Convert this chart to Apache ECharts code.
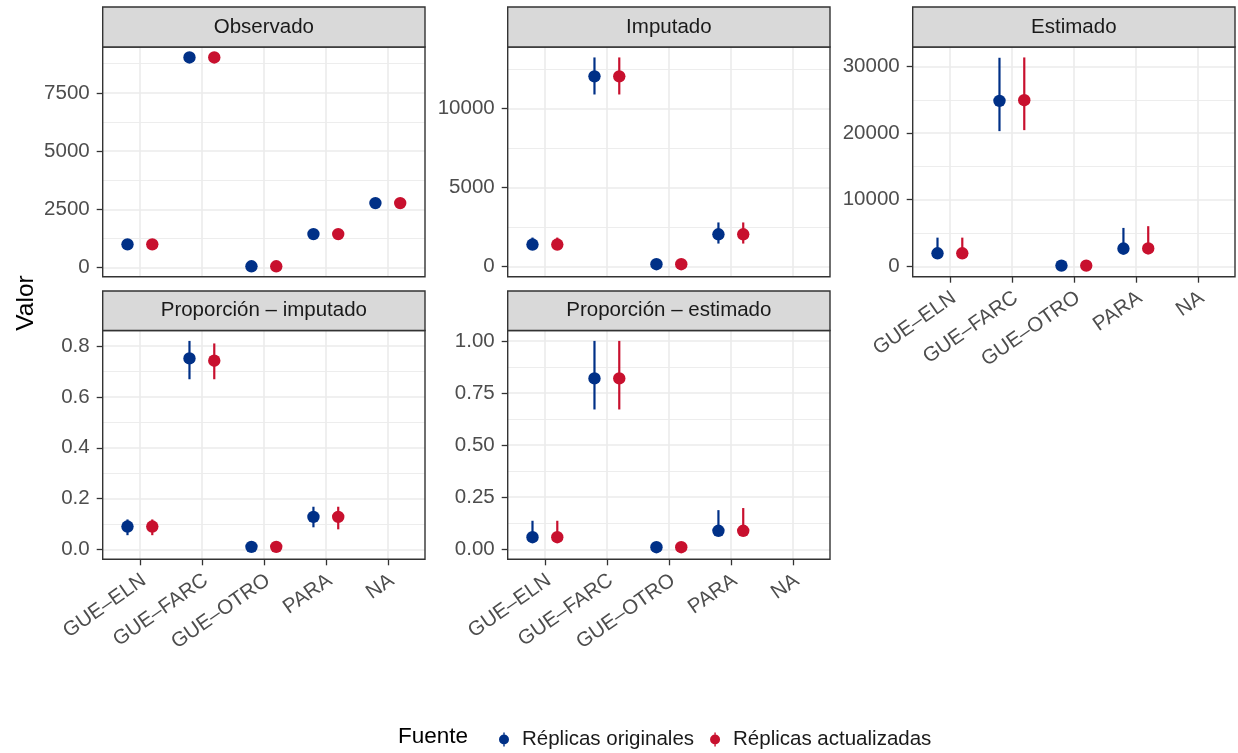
<!DOCTYPE html>
<html>
<head>
<meta charset="utf-8">
<script src="https://cdn.jsdelivr.net/npm/echarts@6/dist/echarts.min.js"></script>
<style>html,body{margin:0;padding:0;background:#fff}#c{width:1238px;height:753px}</style>
</head>
<body>
<div id="c"></div>
<script>
// ---------------- DATA ----------------
const categories = ['GUE–ELN', 'GUE–FARC', 'GUE–OTRO', 'PARA', 'NA'];
const fuentes = ['Réplicas originales', 'Réplicas actualizadas'];
const panelTitles = ['Observado', 'Imputado', 'Estimado', 'Proporción – imputado', 'Proporción – estimado'];

// Observado (no intervals)
const observadoOrig = [1000, 9020, 60, 1440, 2770];
const observadoActu = [1000, 9020, 60, 1440, 2770];
const observadoOrigLow = [null, null, null, null, null];
const observadoOrigHigh = [null, null, null, null, null];
const observadoActuLow = [null, null, null, null, null];
const observadoActuHigh = [null, null, null, null, null];

// Imputado
const imputadoOrig = [1380, 12050, 130, 2030, null];
const imputadoOrigLow = [1050, 10900, 0, 1440, null];
const imputadoOrigHigh = [1820, 13250, 250, 2780, null];
const imputadoActu = [1380, 12050, 130, 2030, null];
const imputadoActuLow = [1050, 10900, 0, 1440, null];
const imputadoActuHigh = [1820, 13250, 250, 2780, null];

// Estimado
const estimadoOrig = [1950, 24850, 100, 2660, null];
const estimadoOrigLow = [1150, 20300, 0, 1750, null];
const estimadoOrigHigh = [4300, 31320, 250, 5760, null];
const estimadoActu = [1950, 24950, 100, 2680, null];
const estimadoActuLow = [1150, 20450, 0, 1800, null];
const estimadoActuHigh = [4300, 31370, 250, 6020, null];

// Proporción – imputado
const propImpOrig = [0.090, 0.752, 0.010, 0.128, null];
const propImpOrigLow = [0.056, 0.670, 0.002, 0.087, null];
const propImpOrigHigh = [0.118, 0.821, 0.018, 0.168, null];
const propImpActu = [0.090, 0.743, 0.010, 0.128, null];
const propImpActuLow = [0.056, 0.670, 0.002, 0.079, null];
const propImpActuHigh = [0.118, 0.811, 0.018, 0.168, null];

// Proporción – estimado
const propEstOrig = [0.058, 0.820, 0.010, 0.089, null];
const propEstOrigLow = [0.035, 0.671, 0.002, 0.065, null];
const propEstOrigHigh = [0.137, 1.000, 0.018, 0.188, null];
const propEstActu = [0.058, 0.820, 0.010, 0.089, null];
const propEstActuLow = [0.035, 0.671, 0.002, 0.065, null];
const propEstActuHigh = [0.137, 1.000, 0.018, 0.198, null];

// Tick values and labels
const observadoTicks = [0, 2500, 5000, 7500];
const observadoTickLabels = ['0', '2500', '5000', '7500'];
const imputadoTicks = [0, 5000, 10000];
const imputadoTickLabels = ['0', '5000', '10000'];
const estimadoTicks = [0, 10000, 20000, 30000];
const estimadoTickLabels = ['0', '10000', '20000', '30000'];
const propImpTicks = [0, 0.2, 0.4, 0.6, 0.8];
const propImpTickLabels = ['0.0', '0.2', '0.4', '0.6', '0.8'];
const propEstTicks = [0, 0.25, 0.5, 0.75, 1.0];
const propEstTickLabels = ['0.00', '0.25', '0.50', '0.75', '1.00'];

// ---------------- STYLE / LAYOUT ----------------
const FONT = '"Liberation Sans", Arial, Helvetica, sans-serif';
const FS = 20.5;
const COLORS = ['#003087', '#C8102E'];
const DODGE = 0.2;
const GRID_COLOR = '#EBEBEB';
const BORDER = '#333333';

const panels = [
  { title: panelTitles[0], ticks: observadoTicks, labels: observadoTickLabels, showX: false,
    s: [[observadoOrig, observadoOrigLow, observadoOrigHigh], [observadoActu, observadoActuLow, observadoActuHigh]] },
  { title: panelTitles[1], ticks: imputadoTicks, labels: imputadoTickLabels, showX: false,
    s: [[imputadoOrig, imputadoOrigLow, imputadoOrigHigh], [imputadoActu, imputadoActuLow, imputadoActuHigh]] },
  { title: panelTitles[2], ticks: estimadoTicks, labels: estimadoTickLabels, showX: true,
    s: [[estimadoOrig, estimadoOrigLow, estimadoOrigHigh], [estimadoActu, estimadoActuLow, estimadoActuHigh]] },
  { title: panelTitles[3], ticks: propImpTicks, labels: propImpTickLabels, showX: true,
    s: [[propImpOrig, propImpOrigLow, propImpOrigHigh], [propImpActu, propImpActuLow, propImpActuHigh]] },
  { title: panelTitles[4], ticks: propEstTicks, labels: propEstTickLabels, showX: true,
    s: [[propEstOrig, propEstOrigLow, propEstOrigHigh], [propEstActu, propEstActuLow, propEstActuHigh]] }
];

const colLeft = [102.7, 507.7, 912.7];
const panelW = 322.3;
const rows = [
  { stripTop: 7, plotTop: 47, plotH: 229.7 },
  { stripTop: 291, plotTop: 330.5, plotH: 228.8 }
];

const grids = [], xAxes = [], yAxes = [], series = [], graphics = [];

function renderItem(params, api) {
  const x = api.value(0), y = api.value(1), lo = api.value(2), hi = api.value(3);
  const color = api.visual('color');
  const children = [];
  if (!isNaN(lo) && !isNaN(hi)) {
    const a = api.coord([x, lo]), b = api.coord([x, hi]);
    children.push({ type: 'line', shape: { x1: a[0], y1: a[1], x2: b[0], y2: b[1] },
      style: { stroke: color, lineWidth: 2.2 } });
  }
  const c = api.coord([x, y]);
  children.push({ type: 'circle', shape: { cx: c[0], cy: c[1], r: 6.2 }, style: { fill: color } });
  return { type: 'group', children };
}

panels.forEach((p, i) => {
  const r = rows[i < 3 ? 0 : 1];
  const left = colLeft[i % 3];
  // data range with ggplot-like 5% expansion
  const vals = [];
  p.s.forEach(t => t.forEach(arr => arr.forEach(v => { if (v !== null && v !== undefined) vals.push(v); })));
  const lo = Math.min(...vals), hi = Math.max(...vals);
  const span = hi - lo;
  const yMin = lo - 0.05 * span, yMax = hi + 0.05 * span;
  const step = p.ticks[1] - p.ticks[0];
  const minors = [];
  for (let k = -1; k < p.ticks.length + 1; k++) {
    const m = p.ticks[0] + step * k + step / 2;
    if (m > yMin && m < yMax) minors.push(+m.toFixed(6));
  }

  grids.push({ left: left, top: r.plotTop, width: panelW, height: r.plotH, show: false, containLabel: false });

  xAxes.push({
    gridIndex: i, type: 'value', min: 0.4, max: 5.6, position: 'bottom',
    axisLine: { show: false, onZero: false },
    axisTick: { show: p.showX, inside: false, length: 6, customValues: [1, 2, 3, 4, 5], lineStyle: { color: BORDER, width: 1.3 } },
    axisLabel: {
      show: p.showX, customValues: [1, 2, 3, 4, 5], rotate: 35, margin: 22,
      verticalAlign: 'middle', padding: [0, -5, 0, 0],
      fontSize: FS, color: '#4D4D4D', fontFamily: FONT,
      formatter: v => categories[Math.round(v) - 1]
    },
    splitLine: { show: true, lineStyle: { color: GRID_COLOR, width: 1.6 } }
  });
  xAxes.push({
    gridIndex: i, type: 'value', min: 0.4, max: 5.6, position: 'top', show: false,
    axisLine: { onZero: false }
  });

  yAxes.push({
    gridIndex: i, type: 'value', min: yMin, max: yMax, position: 'left',
    axisLine: { show: false, onZero: false },
    axisTick: { show: true, length: 6, customValues: p.ticks, lineStyle: { color: BORDER, width: 1.3 } },
    axisLabel: {
      customValues: p.ticks, margin: 13, fontSize: FS, color: '#4D4D4D', fontFamily: FONT,
      formatter: v => { const idx = p.ticks.findIndex(t => Math.abs(t - v) < 1e-9); return idx >= 0 ? p.labels[idx] : ''; }
    },
    splitLine: { show: true, lineStyle: { color: GRID_COLOR, width: 1.6 } }
  });
  yAxes.push({
    gridIndex: i, type: 'value', min: yMin, max: yMax, position: 'right',
    axisLine: { show: false, onZero: false },
    axisTick: { show: false, customValues: minors },
    axisLabel: { show: false, customValues: minors },
    splitLine: { show: true, lineStyle: { color: GRID_COLOR, width: 0.9 } }
  });

  p.s.forEach((t, j) => {
    const data = [];
    t[0].forEach((v, k) => {
      if (v === null) return;
      data.push([k + 1 + (j === 0 ? -DODGE : DODGE), v, t[1][k], t[2][k]]);
    });
    series.push({
      type: 'custom', name: fuentes[j], xAxisIndex: 2 * i, yAxisIndex: 2 * i,
      itemStyle: { color: COLORS[j] }, renderItem, data,
      dimensions: ['x', 'y', 'lo', 'hi'], encode: { x: 0, y: 1 }, z: 5, clip: false
    });
  });

  // panel border (on top) and strip
  graphics.push({ type: 'rect', z: 100, silent: true,
    shape: { x: left, y: r.plotTop, width: panelW, height: r.plotH },
    style: { fill: null, stroke: BORDER, lineWidth: 1.4 } });
  graphics.push({ type: 'rect', z: 100, silent: true,
    shape: { x: left, y: r.stripTop, width: panelW, height: r.plotTop - r.stripTop },
    style: { fill: '#D9D9D9', stroke: BORDER, lineWidth: 1.4 } });
  graphics.push({ type: 'text', z: 101, silent: true,
    x: left + panelW / 2, y: (r.stripTop + r.plotTop) / 2,
    style: { text: p.title, fill: '#1A1A1A', font: FS + 'px ' + FONT, textAlign: 'center', textVerticalAlign: 'middle' } });
});

// axis title
graphics.push({ type: 'text', z: 101, silent: true, x: 26, y: 303, rotation: Math.PI / 2,
  style: { text: 'Valor', fill: '#000', font: '24.5px ' + FONT, textAlign: 'center', textVerticalAlign: 'middle' } });
// legend title
graphics.push({ type: 'text', z: 101, silent: true, x: 398, y: 737,
  style: { text: 'Fuente', fill: '#000', font: '22.5px ' + FONT, textAlign: 'left', textVerticalAlign: 'middle' } });

const chart = echarts.init(document.getElementById('c'), null, { renderer: 'canvas' });
chart.setOption({
  backgroundColor: '#fff',
  animation: false,
  grid: grids,
  xAxis: xAxes,
  yAxis: yAxes,
  series: series,
  graphic: graphics,
  legend: {
    data: fuentes, left: 494, top: 724, orient: 'horizontal',
    itemWidth: 10, itemHeight: 14, itemGap: 16, selectedMode: false,
    icon: 'path://M4.3,0H5.7V14H4.3Z M0,7A5,5 0 1,1 10,7A5,5 0 1,1 0,7Z',
    textStyle: { fontSize: FS, color: '#1A1A1A', fontFamily: FONT, padding: [0, 0, 0, 8] }
  }
});
</script>
</body>
</html>
